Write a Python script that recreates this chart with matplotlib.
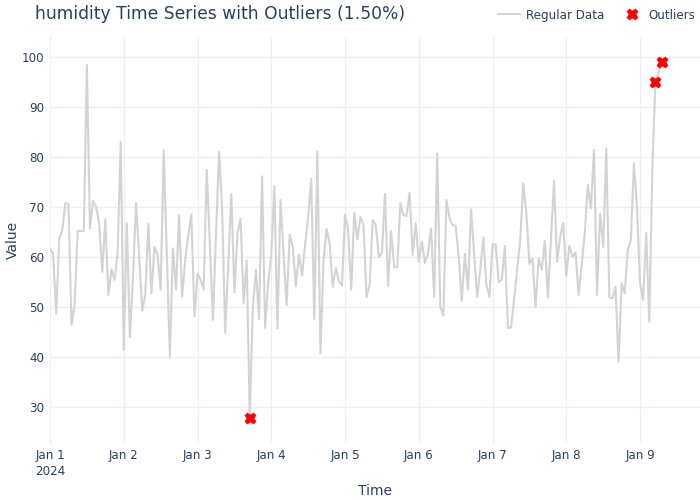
import numpy as np
import pandas as pd
import matplotlib
matplotlib.use("Agg")
import matplotlib.pyplot as plt

# hourly humidity readings
humidity = [
    61.6, 60.8, 48.8, 63.7, 65.5, 70.9, 70.7, 46.5, 50.5, 65.3,
    65.3, 65.3, 98.5, 65.8, 71.3, 70.1, 66.8, 57.1, 67.6, 52.5,
    57.6, 55.5, 60.8, 83.1, 41.5, 66.8, 44.0, 56.0, 70.9, 60.5,
    49.3, 52.6, 66.8, 52.8, 62.1, 60.5, 53.6, 81.4, 61.0, 40.0,
    61.8, 53.6, 68.5, 52.2, 59.5, 64.5, 68.6, 48.2, 56.7, 55.5,
    53.6, 77.5, 63.0, 47.5, 64.5, 81.1, 70.1, 44.9, 58.5, 72.7,
    53.0, 64.7, 67.7, 50.8, 59.4, 27.8, 50.1, 57.5, 47.7, 76.2,
    45.9, 55.0, 60.5, 74.3, 45.8, 71.5, 60.7, 50.4, 64.5, 62.1,
    54.2, 60.6, 56.4, 62.5, 68.0, 75.7, 47.7, 81.2, 40.8, 59.4,
    65.7, 62.7, 54.1, 57.9, 55.3, 54.3, 68.6, 65.5, 53.5, 68.9,
    63.7, 68.1, 66.5, 52.0, 54.5, 67.5, 66.5, 60.1, 60.9, 72.7,
    54.3, 65.3, 58.1, 58.0, 70.9, 68.5, 68.3, 72.9, 60.5, 66.8,
    59.1, 63.1, 58.9, 60.8, 65.8, 52.1, 80.8, 50.1, 48.3, 71.5,
    67.8, 66.5, 66.3, 60.0, 51.3, 60.7, 53.6, 69.6, 61.0, 52.1,
    57.5, 64.0, 54.5, 52.1, 62.6, 62.6, 55.1, 55.5, 62.3, 45.8,
    46.0, 51.5, 57.5, 63.5, 74.8, 68.8, 58.7, 59.8, 50.1, 59.8,
    57.5, 63.3, 52.0, 63.5, 75.3, 59.1, 64.1, 66.9, 56.3, 62.3,
    60.1, 61.0, 52.5, 58.5, 64.8, 74.5, 69.8, 81.5, 52.5, 68.8,
    62.1, 81.8, 52.0, 51.8, 54.1, 39.1, 54.8, 52.8, 61.5, 63.5,
    78.8, 70.1, 54.8, 51.5, 64.9, 47.1, 78.0, 95.1, 97.0, 99.0,
]
outlier_idx = [65, 197, 199]

times = pd.date_range("2024-01-01", periods=len(humidity), freq="h")
values = np.array(humidity)

text_color = "#2a3f5f"
grid_color = "#ebf0f8"

fig = plt.figure(figsize=(7, 5), dpi=100)
ax = fig.add_axes([50 / 700, 1 - 443.3 / 500, 650 / 700, (443.3 - 37) / 500])

ax.plot(times, values, color="lightgray", lw=1.5, label="Regular Data", zorder=2)
ax.plot(times[outlier_idx], values[outlier_idx], "X", color="red", ms=7.5,
        mec="red", linestyle="none", label="Outliers", zorder=3)

ax.set_ylim(22.8, 104.1)
ax.set_xlim(times[0], times[0] + pd.Timedelta(hours=211.5))
ax.set_yticks(np.arange(30, 101, 10))
day_ticks = pd.date_range("2024-01-01", "2024-01-09", freq="D")
ax.set_xticks(day_ticks)
ax.set_xticklabels(["Jan 1\n2024"] + [f"Jan {d.day}" for d in day_ticks[1:]])

ax.grid(True, color=grid_color, lw=1)
ax.set_axisbelow(True)
for s in ax.spines.values():
    s.set_visible(False)
ax.tick_params(length=0, labelsize=8.6, labelcolor=text_color, pad=4)
for lbl in ax.get_xticklabels():
    lbl.set_linespacing(1.3)
    lbl.set_verticalalignment("top")

ax.set_xlabel("Time", fontsize=10, color=text_color)
ax.set_ylabel("Value", fontsize=10, color=text_color)
ax.xaxis.set_label_coords(0.5, -(484 - 443.3) / 406.3)
ax.yaxis.set_label_coords((20 - 50) / 650, 0.5)

fig.text(35 / 700, 1 - 14 / 500, "humidity Time Series with Outliers (1.50%)",
         fontsize=12.3, color=text_color, ha="left", va="center")

leg = ax.legend(loc="center right", bbox_to_anchor=(1.0, (443.3 - 15) / (443.3 - 37)),
                ncol=2, frameon=False, fontsize=8.6, handlelength=1.8,
                columnspacing=1.4, handletextpad=0.5, borderaxespad=0)
for t in leg.get_texts():
    t.set_color(text_color)

fig.savefig("out.png", dpi=100)
